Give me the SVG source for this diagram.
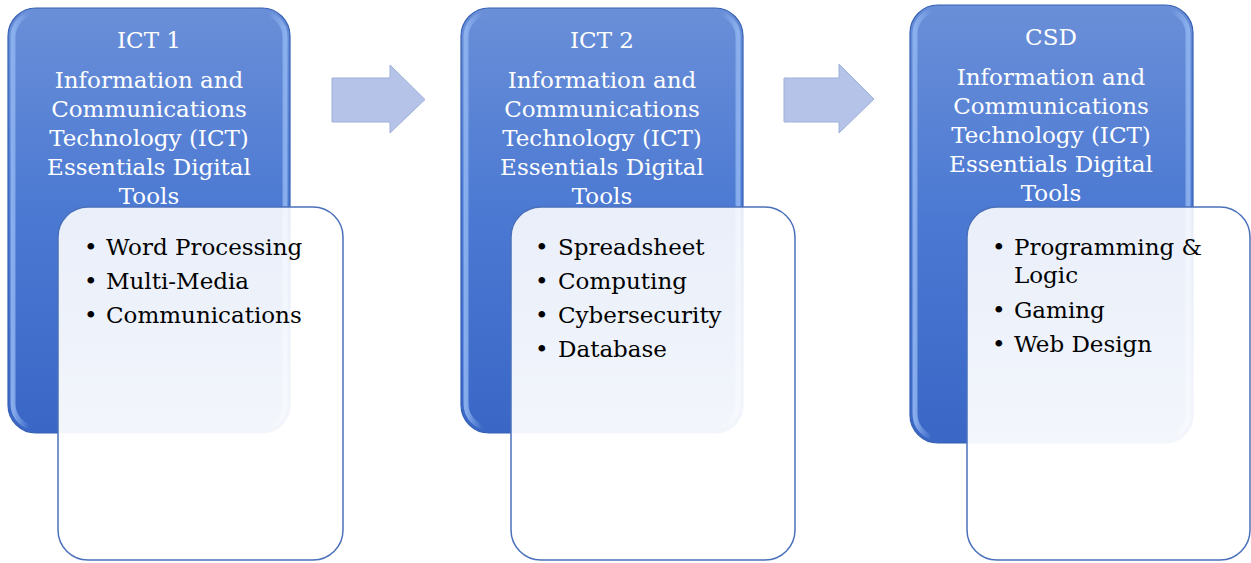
<svg xmlns="http://www.w3.org/2000/svg" width="1251" height="563" viewBox="0 0 1251 563">
<defs>
<linearGradient id="blueG" x1="0" y1="0" x2="0" y2="1">
<stop offset="0" stop-color="#6a8fd8"/>
<stop offset="0.5" stop-color="#4a78d2"/>
<stop offset="1" stop-color="#3a67c6"/>
</linearGradient>
<linearGradient id="edgeG" x1="0" y1="0" x2="1" y2="0">
<stop offset="0" stop-color="#8fb4f0" stop-opacity="0.9"/>
<stop offset="0.06" stop-color="#8fb4f0" stop-opacity="0"/>
<stop offset="0.94" stop-color="#8fb4f0" stop-opacity="0"/>
<stop offset="1" stop-color="#8fb4f0" stop-opacity="0.9"/>
</linearGradient>
<linearGradient id="cardG" x1="0" y1="0" x2="0" y2="1">
<stop offset="0" stop-color="#ffffff" stop-opacity="0.88"/>
<stop offset="1" stop-color="#ffffff" stop-opacity="0.97"/>
</linearGradient>
</defs>
<style>
.blue{fill:url(#blueG);stroke:#3560b4;stroke-width:1.2}
.hl{fill:none;stroke:url(#edgeG);stroke-width:5}
.card{fill:url(#cardG);stroke:#4a70bb;stroke-width:1.5}
text{font-family:'DejaVu Serif',serif;font-size:23px}
.title{fill:#ffffff;text-anchor:middle}
.item{fill:#000000}
.arrow{fill:#b4c3e7;stroke:#9eafd9;stroke-width:1}
</style>

<g id="connectors">
<polygon class="arrow" points="332,78 390,78 390,65 425,99.5 390,133 390,122 332,122"/>
<polygon class="arrow" points="784,78 839,78 839,64 874,99 839,133 839,122 784,122"/>
</g>

<g id="node-ict1">
<rect class="blue" x="8" y="8" width="282" height="425" rx="28"/>
<rect class="hl" x="13" y="13" width="272" height="415" rx="24"/>
<text class="title" x="149" y="48">ICT 1</text>
<text class="title" x="149" y="88">Information and</text>
<text class="title" x="149" y="117">Communications</text>
<text class="title" x="149" y="146">Technology (ICT)</text>
<text class="title" x="149" y="175">Essentials Digital</text>
<text class="title" x="149" y="204">Tools</text>
</g>

<g id="node-ict2">
<rect class="blue" x="461" y="8" width="282" height="425" rx="28"/>
<rect class="hl" x="466" y="13" width="272" height="415" rx="24"/>
<text class="title" x="602" y="48">ICT 2</text>
<text class="title" x="602" y="88">Information and</text>
<text class="title" x="602" y="117">Communications</text>
<text class="title" x="602" y="146">Technology (ICT)</text>
<text class="title" x="602" y="175">Essentials Digital</text>
<text class="title" x="602" y="204">Tools</text>
</g>

<g id="node-csd">
<rect class="blue" x="910" y="5" width="283" height="438" rx="28"/>
<rect class="hl" x="915" y="10" width="273" height="428" rx="24"/>
<text class="title" x="1051" y="45">CSD</text>
<text class="title" x="1051" y="85">Information and</text>
<text class="title" x="1051" y="114">Communications</text>
<text class="title" x="1051" y="143">Technology (ICT)</text>
<text class="title" x="1051" y="172">Essentials Digital</text>
<text class="title" x="1051" y="201">Tools</text>
</g>

<g id="card-ict1">
<rect class="card" x="58" y="207" width="285" height="353" rx="30"/>
<text class="item" x="84" y="255">•</text><text class="item" x="106" y="255">Word Processing</text>
<text class="item" x="84" y="289">•</text><text class="item" x="106" y="289">Multi-Media</text>
<text class="item" x="84" y="323">•</text><text class="item" x="106" y="323">Communications</text>
</g>

<g id="card-ict2">
<rect class="card" x="511" y="207" width="284" height="353" rx="30"/>
<text class="item" x="535" y="255">•</text><text class="item" x="558" y="255">Spreadsheet</text>
<text class="item" x="535" y="289">•</text><text class="item" x="558" y="289">Computing</text>
<text class="item" x="535" y="323">•</text><text class="item" x="558" y="323">Cybersecurity</text>
<text class="item" x="535" y="357">•</text><text class="item" x="558" y="357">Database</text>
</g>

<g id="card-csd">
<rect class="card" x="967" y="207" width="283" height="353" rx="30"/>
<text class="item" x="992" y="255">•</text><text class="item" x="1014" y="255">Programming &amp;</text>
<text class="item" x="1014" y="283">Logic</text>
<text class="item" x="992" y="318">•</text><text class="item" x="1014" y="318">Gaming</text>
<text class="item" x="992" y="352">•</text><text class="item" x="1014" y="352">Web Design</text>
</g>
</svg>
